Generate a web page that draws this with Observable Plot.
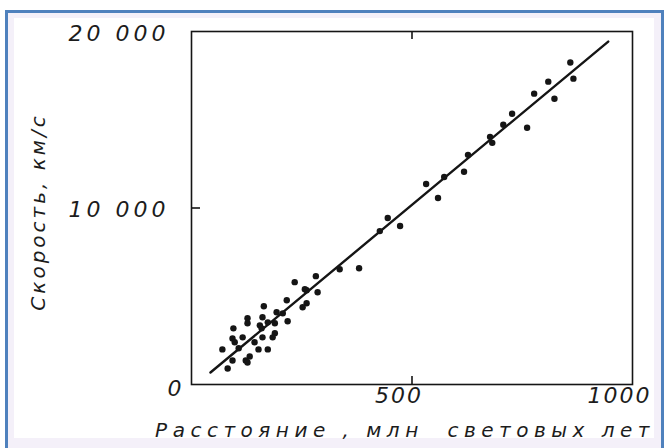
<!DOCTYPE html>
<html>
<head>
<meta charset="utf-8">
<script src="https://cdn.jsdelivr.net/npm/d3@7"></script>
<script src="https://cdn.jsdelivr.net/npm/@observablehq/plot@0.6"></script>
<style>
  html, body { margin: 0; padding: 0; background: #ffffff; }
  #border { position: absolute; left: 5px; top: 10px; width: 653px; height: 450px;
            border: 3px solid #4f81bd; border-bottom: none; background: #f4f0f9; }
  #inner { position: absolute; left: 14px; top: 18px; width: 640px; height: 420px; background: #ffffff; }
  #chart { position: absolute; left: 0; top: 0; }
  #chart svg text { font-family: "DejaVu Sans", sans-serif; font-style: italic; fill: #1c1c1c; }
</style>
</head>
<body>
<div id="border"></div>
<div id="inner"></div>
<div id="chart"></div>
<script>
// Distance, million light years
const distance = [859,866,809,823,777,727,707,761,682,677,627,618,573,532,559,445,473,427,380,336,282,257,286,234,261,216,261,252,164,193,207,218,127,127,161,155,173,189,95,159,189,93,116,98,143,161,184,70,107,152,173,132,93,123,127,82];
// Velocity, km/s
const velocity = [18240,17330,17160,16190,16480,15340,14720,14550,13690,14030,13010,12050,11760,11360,10570,9430,8980,8690,6590,6530,6140,5400,5230,5800,5340,4770,4600,4380,4430,4090,4030,3580,3750,3470,3810,3350,3520,3470,3180,3180,2900,2610,2670,2390,2390,2670,2670,1990,2050,1990,1990,1590,1360,1360,1250,910];

// Fitted line endpoints
const lineDistance = [43, 945];
const lineVelocity = [680, 19430];

// Tick values / labels
const xTickValues = [500, 1000];
const xTickLabels = ["500", "1000"];
const yTickValues = [10000, 20000];
const yTickLabels = ["10 000", "20 000"];
const originLabel = "0";
const xInnerTicks = [500];
const yInnerTicks = [10000];

const xTitle = "Расстояние , млн  световых лет";
const yTitle = "Скорость, км/с";

const points = distance.map((d, i) => ({x: d, y: velocity[i]}));
const fitLine = lineDistance.map((d, i) => ({x: d, y: lineVelocity[i]}));

const ink = "#151515";

const chart = Plot.plot({
  width: 664,
  height: 448,
  marginLeft: 191,
  marginRight: 32,
  marginTop: 31,
  marginBottom: 64,
  style: {background: "transparent", overflow: "visible"},
  x: {domain: [0, 1000], axis: null},
  y: {domain: [0, 20000], axis: null},
  marks: [
    Plot.frame({stroke: ink, strokeWidth: 1.6}),
    Plot.tickX(xInnerTicks, {x: d => d, insetTop: 345, stroke: ink, strokeWidth: 1.6}),
    Plot.tickX(xInnerTicks, {x: d => d, insetBottom: 345, stroke: ink, strokeWidth: 1.6}),
    Plot.tickY(yInnerTicks, {y: d => d, insetRight: 432, stroke: ink, strokeWidth: 1.6}),
    Plot.line(fitLine, {x: "x", y: "y", stroke: ink, strokeWidth: 2.4}),
    Plot.dot(points, {x: "x", y: "y", r: 3.2, fill: ink, stroke: "none"}),
    Plot.text(xTickValues, {x: d => d, text: (d, i) => xTickLabels[i], frameAnchor: "bottom",
      textAnchor: "middle", dy: 18, dx: -13, fontSize: 22}),
    Plot.text(yTickValues, {y: d => d, text: (d, i) => yTickLabels[i], frameAnchor: "left",
      textAnchor: "end", dx: -22, dy: 2, fontSize: 22}),
    Plot.text([originLabel], {frameAnchor: "bottom-left", textAnchor: "middle", dx: -17, dy: 11, fontSize: 22}),
    Plot.text([xTitle], {frameAnchor: "bottom", textAnchor: "middle", dx: -7, dy: 52, fontSize: 20}),
    Plot.text([yTitle], {frameAnchor: "left", textAnchor: "middle", dx: -153, dy: 4, rotate: -90, fontSize: 20})
  ]
});
document.getElementById("chart").appendChild(chart);

// letter spacing to mimic the wide engineering lettering
const spacing = new Map();
xTickLabels.forEach(t => spacing.set(t, "2px"));
yTickLabels.forEach(t => spacing.set(t, "4px"));
spacing.set(xTitle, "5.5px");
spacing.set(yTitle, "3px");
chart.querySelectorAll("text").forEach(el => {
  const s = spacing.get(el.textContent);
  if (s) el.style.letterSpacing = s;
});
</script>
</body>
</html>
